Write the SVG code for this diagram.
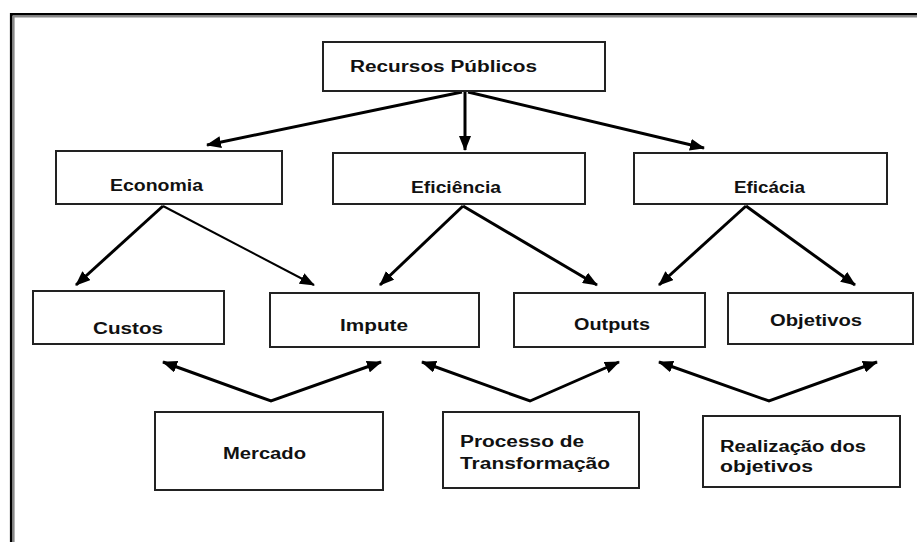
<svg xmlns="http://www.w3.org/2000/svg" width="917" height="542" viewBox="0 0 917 542">
<defs>
<style>
.box{fill:#fff;stroke:#222;stroke-width:2}
.lbl{font-family:"Liberation Sans",Arial,sans-serif;font-weight:bold;font-size:16px;fill:#111}
.c{fill:none;stroke:#000;stroke-width:3}
.t{fill:none;stroke:#000;stroke-width:2}
</style>
<marker id="ah" viewBox="0 0 15 12" refX="14" refY="6" markerWidth="15" markerHeight="12" markerUnits="userSpaceOnUse" orient="auto-start-reverse">
<path d="M0,0 L15,6 L0,12 z" fill="#000"/>
</marker>
</defs>
<rect x="0" y="0" width="917" height="542" fill="#fff"/>
<g id="frame">
<path d="M11.2,542 V14.2 H917" fill="none" stroke="#000" stroke-width="2.6"/>
<path d="M13.8,542 V16.6 H917" fill="none" stroke="#888" stroke-width="1.6"/>
</g>
<g id="connectors">
<line class="c" x1="462" y1="92" x2="207" y2="145" marker-end="url(#ah)"/>
<line class="c" x1="465" y1="92" x2="465" y2="150" marker-end="url(#ah)"/>
<line class="c" x1="468" y1="92" x2="704" y2="148" marker-end="url(#ah)"/>
<line class="c" x1="163" y1="206" x2="76" y2="285" marker-end="url(#ah)"/>
<line class="t" x1="163" y1="206" x2="314" y2="285" marker-end="url(#ah)"/>
<line class="c" x1="463" y1="206" x2="380" y2="285" marker-end="url(#ah)"/>
<line class="c" x1="463" y1="206" x2="597" y2="285" marker-end="url(#ah)"/>
<line class="c" x1="746" y1="206" x2="659" y2="285" marker-end="url(#ah)"/>
<line class="c" x1="746" y1="206" x2="855" y2="285" marker-end="url(#ah)"/>
<polyline class="c" points="163,362 271,401 381,362" marker-start="url(#ah)" marker-end="url(#ah)"/>
<polyline class="c" points="422,362 530,401 619,362" marker-start="url(#ah)" marker-end="url(#ah)"/>
<polyline class="c" points="659,362 769,401 877,362" marker-start="url(#ah)" marker-end="url(#ah)"/>
</g>
<g id="recursos">
<rect class="box" x="323" y="42" width="282" height="49"/>
<text class="lbl" x="350" y="72" textLength="187" lengthAdjust="spacingAndGlyphs">Recursos Públicos</text>
</g>
<g id="economia">
<rect class="box" x="56" y="151" width="226" height="53"/>
<text class="lbl" x="110" y="191" textLength="93" lengthAdjust="spacingAndGlyphs">Economia</text>
</g>
<g id="eficiencia">
<rect class="box" x="333" y="153" width="252" height="51"/>
<text class="lbl" x="411" y="193" textLength="90" lengthAdjust="spacingAndGlyphs">Eficiência</text>
</g>
<g id="eficacia">
<rect class="box" x="634" y="153" width="253" height="51"/>
<text class="lbl" x="734" y="193" textLength="71" lengthAdjust="spacingAndGlyphs">Eficácia</text>
</g>
<g id="custos">
<rect class="box" x="33" y="291" width="191" height="53"/>
<text class="lbl" x="93" y="334" textLength="70" lengthAdjust="spacingAndGlyphs">Custos</text>
</g>
<g id="impute">
<rect class="box" x="270" y="293" width="209" height="54"/>
<text class="lbl" x="340" y="331" textLength="68" lengthAdjust="spacingAndGlyphs">Impute</text>
</g>
<g id="outputs">
<rect class="box" x="514" y="293" width="191" height="54"/>
<text class="lbl" x="574" y="330" textLength="76" lengthAdjust="spacingAndGlyphs">Outputs</text>
</g>
<g id="objetivos">
<rect class="box" x="728" y="293" width="185" height="51"/>
<text class="lbl" x="770" y="326" textLength="92" lengthAdjust="spacingAndGlyphs">Objetivos</text>
</g>
<g id="mercado">
<rect class="box" x="155" y="412" width="228" height="78"/>
<text class="lbl" x="223" y="459" textLength="83" lengthAdjust="spacingAndGlyphs">Mercado</text>
</g>
<g id="processo">
<rect class="box" x="443" y="412" width="196" height="76"/>
<text class="lbl" x="460" y="447" textLength="124" lengthAdjust="spacingAndGlyphs">Processo de</text>
<text class="lbl" x="460" y="469" textLength="150" lengthAdjust="spacingAndGlyphs">Transformação</text>
</g>
<g id="realizacao">
<rect class="box" x="703" y="416" width="197" height="71"/>
<text class="lbl" x="720" y="452" textLength="146" lengthAdjust="spacingAndGlyphs">Realização dos</text>
<text class="lbl" x="720" y="472" textLength="93" lengthAdjust="spacingAndGlyphs">objetivos</text>
</g>
</svg>
